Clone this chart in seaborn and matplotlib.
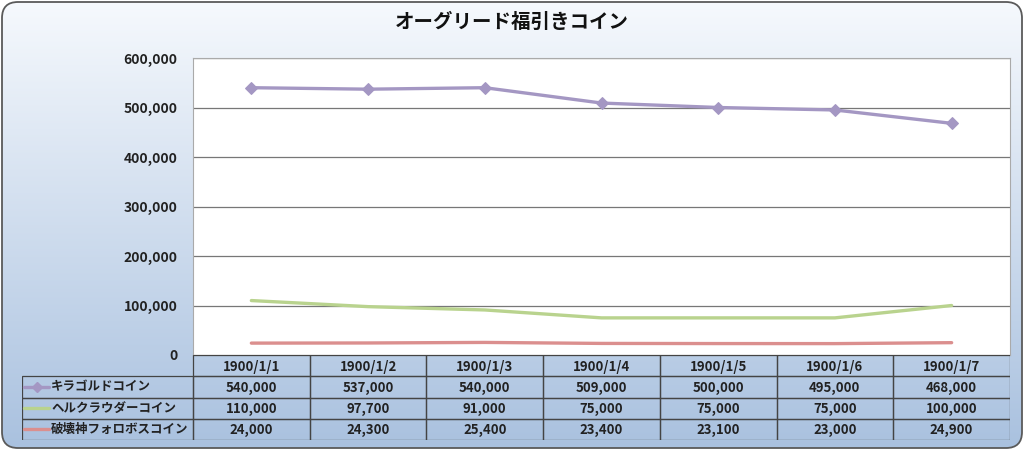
import numpy as np
import matplotlib
matplotlib.use('Agg')
import matplotlib.pyplot as plt
import matplotlib.patches as mpatches
import seaborn as sns

# Chart data
dates = ['1900/1/1', '1900/1/2', '1900/1/3', '1900/1/4', '1900/1/5', '1900/1/6', '1900/1/7']
kira = [540000, 537000, 540000, 509000, 500000, 495000, 468000]
helk = [110000, 97700, 91000, 75000, 75000, 75000, 100000]
hakai = [24000, 24300, 25400, 23400, 23100, 23000, 24900]
series_names = ['キラゴルドコイン', 'ヘルクラウダーコイン', '破壊神フォロボスコイン']
series_values = [kira, helk, hakai]
series_colors = ['#A497C3', '#B9D38E', '#DB8F8E']
series_markers = ['D', None, None]
yticks = [0, 100000, 200000, 300000, 400000, 500000, 600000]

sns.set_style('white')
plt.rcParams['font.family'] = ['Noto Sans CJK JP', 'DejaVu Sans']

W, H = 1024, 450
fig = plt.figure(figsize=(W / 100, H / 100), dpi=100, facecolor='white')

# Background gradient with rounded border
bg = fig.add_axes([0, 0, 1, 1])
bg.set_xlim(0, W)
bg.set_ylim(0, H)
bg.axis('off')
grad = np.linspace(0, 1, 256).reshape(-1, 1)
top = np.array(matplotlib.colors.to_rgb('#F6F9FD'))
bot = np.array(matplotlib.colors.to_rgb('#A9C1DF'))
img = top + (bot - top) * grad[..., None]
im = bg.imshow(img, extent=[0, W, 0, H], aspect='auto', origin='upper', zorder=0)
frame = mpatches.FancyBboxPatch((2, 2), W - 4, H - 4, boxstyle='round,pad=0,rounding_size=16',
                                facecolor='none', edgecolor='#5A5A5A', linewidth=1.3, zorder=2)
bg.add_patch(frame)
im.set_clip_path(frame)

fig.text(0.5, 1 - 22 / H, 'オーグリード福引きコイン', ha='center', va='center',
         fontsize=14, fontweight='bold', color='#111111')

# Plot area
x0, x1 = 193, 1010
y_top, y_bot = 58, 355
ax = fig.add_axes([x0 / W, 1 - y_bot / H, (x1 - x0) / W, (y_bot - y_top) / H])
ax.set_facecolor('white')
xs = np.arange(len(dates))
for name, vals, col, mk in zip(series_names, series_values, series_colors, series_markers):
    sns.lineplot(x=xs, y=vals, ax=ax, color=col, linewidth=2.4, marker=mk,
                 markersize=6, markeredgecolor=col, zorder=3)
ax.set_xlim(-0.5, len(dates) - 0.5)
ax.set_ylim(0, 600000)
ax.set_yticks(yticks)
ax.set_yticklabels([f'{v:,}' for v in yticks], fontsize=10, fontweight='bold', color='#222222')
ax.set_xticks([])
ax.grid(axis='y', color='#777777', linewidth=0.9)
ax.tick_params(axis='y', length=0, pad=11)
for s in ax.spines.values():
    s.set_color('#AAAAAA')
    s.set_linewidth(0.8)

# Data table below the plot
tx0, ty0, ty1 = 22, 355, 440
tab = fig.add_axes([tx0 / W, 1 - ty1 / H, (x1 - tx0) / W, (ty1 - ty0) / H])
unit = (x1 - x0) / len(dates)
left = -0.5 - (x0 - tx0) / unit
tab.set_xlim(left, len(dates) - 0.5)
tab.set_ylim(4, 0)
tab.axis('off')
edge = '#444444'
for j, d in enumerate(dates):
    tab.add_patch(mpatches.Rectangle((j - 0.5, 0), 1, 1, facecolor='none', edgecolor=edge, lw=0.9))
    tab.text(j, 0.55, d, ha='center', va='center', fontsize=9.5, fontweight='bold', color='#222222')
for i, (name, vals, col, mk) in enumerate(zip(series_names, series_values, series_colors, series_markers)):
    r = i + 1
    tab.add_patch(mpatches.Rectangle((left, r), -0.5 - left, 1, facecolor='none', edgecolor=edge, lw=0.9))
    tab.plot([left + 0.02, left + 0.23], [r + 0.5, r + 0.5], color=col, lw=2.4)
    if mk:
        tab.plot([left + 0.125], [r + 0.5], marker=mk, color=col, markersize=5)
    tab.text(left + 0.25, r + 0.5, name, ha='left', va='center', fontsize=9,
             fontweight='bold', color='#222222')
    for j, v in enumerate(vals):
        tab.add_patch(mpatches.Rectangle((j - 0.5, r), 1, 1, facecolor='none', edgecolor=edge, lw=0.9))
        tab.text(j, r + 0.55, f'{v:,}', ha='center', va='center', fontsize=9.5,
                 fontweight='bold', color='#222222')

fig.savefig('out.png', dpi=100)
